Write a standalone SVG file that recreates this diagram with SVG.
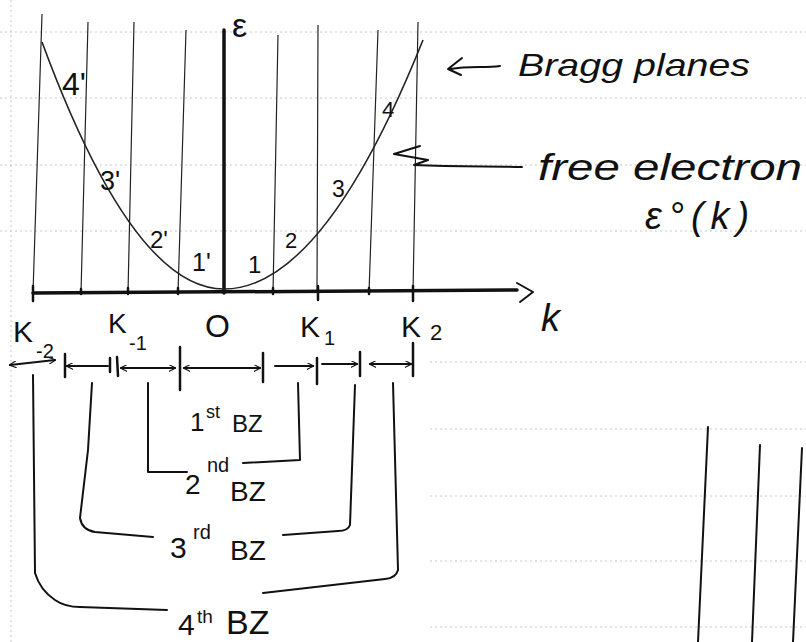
<svg xmlns="http://www.w3.org/2000/svg" width="806" height="642" viewBox="0 0 806 642">
<style>
.rule{stroke:#c8c8c8;stroke-width:1;stroke-dasharray:2 3;fill:none}
.plane{stroke:#222;stroke-width:1.2;fill:none}
.thick{stroke:#111;stroke-width:3.5;fill:none;stroke-linecap:round}
.ln{stroke:#111;stroke-width:2;fill:none;stroke-linecap:round;stroke-linejoin:round}
.tick{stroke:#111;stroke-width:2.5;fill:none;stroke-linecap:round}
.curve{stroke:#222;stroke-width:1.6;fill:none}
text{font-family:"Liberation Sans",Arial,sans-serif;fill:#111}
.hw{font-style:italic}
</style>
<defs>
<marker id="ah" viewBox="0 0 10 10" refX="9" refY="5" markerWidth="7" markerHeight="7" orient="auto-start-reverse" markerUnits="userSpaceOnUse">
<path d="M0,0 L10,5 L0,10" fill="none" stroke="#111" stroke-width="1.6"/>
</marker>
</defs>
<rect width="806" height="642" fill="#fff"/>
<g id="paper">
<path class="rule" d="M0,32H806M0,98H806M0,165H806M0,231H806M430,362H806M430,429H806M430,496H806M430,561H806M430,627H806M11,0V642"/>
</g>
<g id="bragg-planes">
<path class="plane" d="M42,14L33,293M88,22L81,293M134,22L128,293M186,30L178,293M278,35L273,293M318,25L317,293M378,30L369,293M418,22L413,293"/>
</g>
<g id="axes">
<path class="thick" d="M224,30L224,293"/>
<path class="thick" d="M33,293L517,290"/>
<path class="ln" d="M517,283L533,292L520,302"/>
<path class="tick" d="M33,286V301M318,286V300M413,286V301M81,289V294M128,288V294M178,288V294M273,288V294M369,288V294"/>
<text x="232" y="37" font-size="34">ε</text>
<text class="hw" x="541" y="331" font-size="38">k</text>
</g>
<g id="free-electron-curve">
<path class="curve" d="M42,42Q133,289 224,289Q323,289 423,40"/>
<text x="62" y="95" font-size="32">4'</text>
<text x="100" y="190" font-size="27">3'</text>
<text x="150" y="248" font-size="24">2'</text>
<text x="192" y="271" font-size="25">1'</text>
<text x="248" y="273" font-size="24">1</text>
<text x="285" y="248" font-size="22">2</text>
<text x="332" y="197" font-size="23">3</text>
<text x="382" y="117" font-size="22">4</text>
</g>
<g id="bragg-label">
<path class="ln" d="M462,58L448,69L461,75M450,69C470,66 485,68 500,66"/>
<text class="hw" x="518" y="76" font-size="32" textLength="232" lengthAdjust="spacingAndGlyphs">Bragg planes</text>
</g>
<g id="free-electron-label">
<path class="ln" d="M420,146L394,154L428,160L414,165C460,167 495,166 522,167"/>
<text class="hw" x="538" y="180" font-size="36" textLength="264" lengthAdjust="spacingAndGlyphs">free electron</text>
<text class="hw" x="645" y="229" font-size="38" letter-spacing="7">ε°(k)</text>
</g>
<g id="k-labels">
<text x="13" y="342" font-size="30">K</text>
<text x="36" y="358" font-size="20">-2</text>
<text x="108" y="333" font-size="28">K</text>
<text x="129" y="350" font-size="20">-1</text>
<text x="205" y="337" font-size="32">O</text>
<text x="300" y="337" font-size="30">K</text>
<text x="324" y="345" font-size="20">1</text>
<text x="401" y="337" font-size="30">K</text>
<text x="430" y="340" font-size="22">2</text>
</g>
<g id="zone-segments">
<path class="ln" d="M10,365L55,360" marker-start="url(#ah)" marker-end="url(#ah)"/>
<path class="ln" d="M108,366L67,366" marker-end="url(#ah)"/>
<path class="ln" d="M121,368L175,368" marker-start="url(#ah)" marker-end="url(#ah)"/>
<path class="ln" d="M184,368L260,368" marker-start="url(#ah)" marker-end="url(#ah)"/>
<path class="ln" d="M275,366L313,366" marker-end="url(#ah)"/>
<path class="ln" d="M322,364L357,364" marker-end="url(#ah)"/>
<path class="ln" d="M370,364L411,364" marker-start="url(#ah)" marker-end="url(#ah)"/>
<path class="tick" d="M65,354V377M110,358V372M117,357L118,376M180,347V390M263,353V382M317,358V384M360,352V376M413,343V376"/>
</g>
<g id="bz1">
<text x="190" y="431" font-size="26">1</text>
<text x="206" y="418" font-size="18">st</text>
<text x="232" y="432" font-size="24">BZ</text>
</g>
<g id="bz2">
<path class="ln" d="M148,383L148,472L187,472"/>
<path class="ln" d="M298,383L300,460L243,463"/>
<text x="185" y="494" font-size="28">2</text>
<text x="207" y="472" font-size="20">nd</text>
<text x="230" y="501" font-size="28">BZ</text>
</g>
<g id="bz3">
<path class="ln" d="M92,383L88,450L80,518Q82,530 95,532L153,537"/>
<path class="ln" d="M355,385L350,525Q348,531 338,531L283,535"/>
<text x="170" y="558" font-size="30">3</text>
<text x="193" y="539" font-size="20">rd</text>
<text x="230" y="560" font-size="28">BZ</text>
</g>
<g id="bz4">
<path class="ln" d="M33,375L35,573Q40,590 55,600Q65,607 80,607L167,610"/>
<path class="ln" d="M393,383L398,570Q396,578 385,579L263,593"/>
<text x="178" y="635" font-size="30">4</text>
<text x="197" y="623" font-size="19">th</text>
<text x="226" y="634" font-size="34">BZ</text>
</g>
<g id="margin-lines">
<path class="ln" d="M708,427L698,642M760,445L752,642M802,448L793,642"/>
</g>
</svg>
